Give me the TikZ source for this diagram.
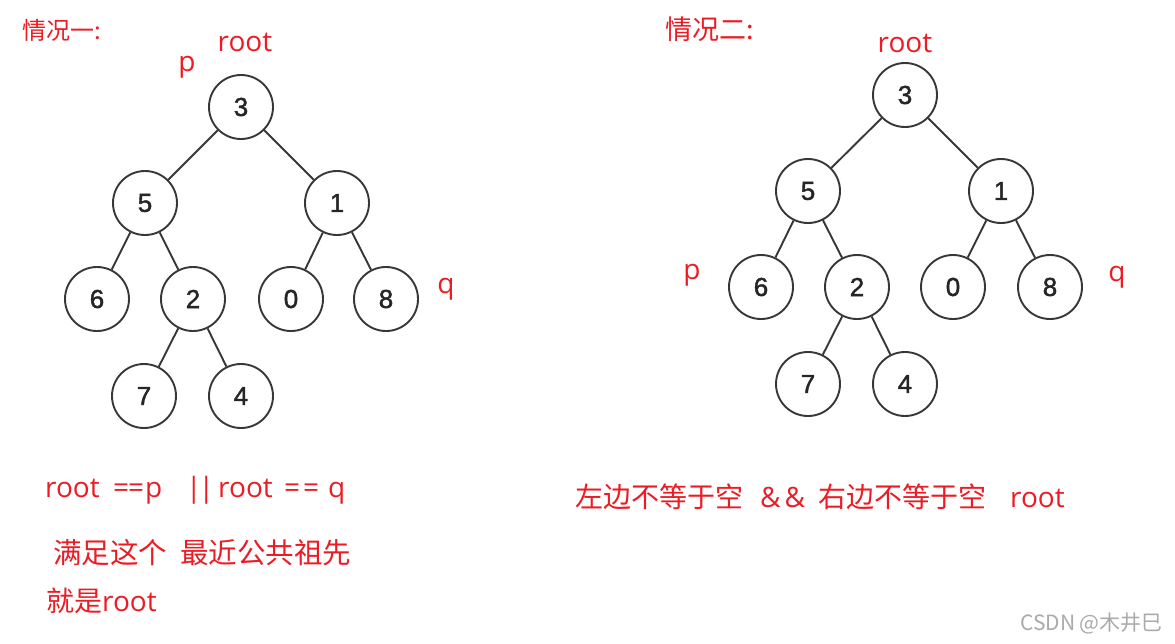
\documentclass[tikz,border=0pt]{standalone}
\usepackage{fontspec}
\setmainfont{Liberation Sans}
\newfontfamily\cjk{Noto Sans CJK SC}
\newfontfamily\lat{Open Sans}
\newfontfamily\digitfont[FakeBold=1.6]{Liberation Sans}
\definecolor{txtred}{RGB}{236,28,36}
\definecolor{edgegray}{RGB}{55,55,55}
\definecolor{wmgray}{RGB}{170,170,170}
\newcommand{\seg}[2]{\makebox[#1pt][l]{#2}}
\begin{document}
\begin{tikzpicture}[x=1pt,y=-1pt,
  tnode/.style={circle,draw=edgegray,line width=1.9pt,minimum size=64pt,inner sep=0pt,
    font=\digitfont\fontsize{26}{26}\selectfont,text=black!85},
  tedge/.style={draw=edgegray,line width=1.9pt},
  lbl/.style={inner sep=0pt,text=txtred,font=\cjk\fontsize{28}{28}\selectfont},
  latlbl/.style={inner sep=0pt,text=txtred,font=\lat\fontsize{28}{28}\selectfont},
  ttl/.style={inner sep=0pt,text=txtred,anchor=west},
]
\useasboundingbox[fill=white] (0,0) rectangle (1175,643);

% ---------- left tree ----------
\node[tnode] (a3) at (241,107) {3};
\node[tnode] (a5) at (145,203) {5};
\node[tnode] (a1) at (337,203) {1};
\node[tnode] (a6) at (97,299) {6};
\node[tnode] (a2) at (193,299) {2};
\node[tnode] (a0) at (291,299) {0};
\node[tnode] (a8) at (386,299) {8};
\node[tnode] (a7) at (144,396) {7};
\node[tnode] (a4) at (241,396) {4};
\draw[tedge] (a3) -- (a5);
\draw[tedge] (a3) -- (a1);
\draw[tedge] (a5) -- (a6);
\draw[tedge] (a5) -- (a2);
\draw[tedge] (a1) -- (a0);
\draw[tedge] (a1) -- (a8);
\draw[tedge] (a2) -- (a7);
\draw[tedge] (a2) -- (a4);

\node[ttl,font=\cjk\fontsize{24}{24}\selectfont] (t1) at (22,30) {情况一:};
\node[latlbl] (r1) at (245,42) {root};
\node[latlbl] (p1) at (187,67) {p};
\node[latlbl] (q1) at (446,289) {q};

% ---------- right tree ----------
\node[tnode] (b3) at (905,95) {3};
\node[tnode] (b5) at (808,191) {5};
\node[tnode] (b1) at (1001,191) {1};
\node[tnode] (b6) at (761,287) {6};
\node[tnode] (b2) at (857,287) {2};
\node[tnode] (b0) at (953,287) {0};
\node[tnode] (b8) at (1050,287) {8};
\node[tnode] (b7) at (808,384) {7};
\node[tnode] (b4) at (905,384) {4};
\draw[tedge] (b3) -- (b5);
\draw[tedge] (b3) -- (b1);
\draw[tedge] (b5) -- (b6);
\draw[tedge] (b5) -- (b2);
\draw[tedge] (b1) -- (b0);
\draw[tedge] (b1) -- (b8);
\draw[tedge] (b2) -- (b7);
\draw[tedge] (b2) -- (b4);

\node[ttl,font=\cjk\fontsize{27}{27}\selectfont] (t2) at (665,29) {情况二:};
\node[latlbl] (r2) at (905,43) {root};
\node[latlbl] (p2) at (692,275) {p};
\node[latlbl] (q2) at (1117,277) {q};

% ---------- bottom texts ----------
\node[latlbl,anchor=west] (c1) at (45,490)
  {\seg{68}{root}\seg{32}{=\hspace{-1pt}=}\seg{41}{p}\seg{32}{|\hspace{-3pt}|}\seg{66}{root}\seg{44}{=\hspace{3pt}=}q};
\node[lbl,anchor=west,font=\cjk\fontsize{28.5}{28.5}\selectfont] (c2) at (53,553)
  {\seg{127}{满足这个}最近公共祖先};
\node[lbl,anchor=west] (c3) at (46,601) {就是{\lat root}};
\node[lbl,anchor=west] (c4) at (575,497)
  {\seg{185}{左边不等于空}\seg{58}{\lat\&\hspace{4pt}\&}\seg{192}{右边不等于空}{\lat root}};
\node[inner sep=0pt,anchor=west,text=wmgray,font=\cjk\fontsize{21}{21}\selectfont] (wm) at (1020,623) {CSDN @木井巳};
\end{tikzpicture}
\end{document}
